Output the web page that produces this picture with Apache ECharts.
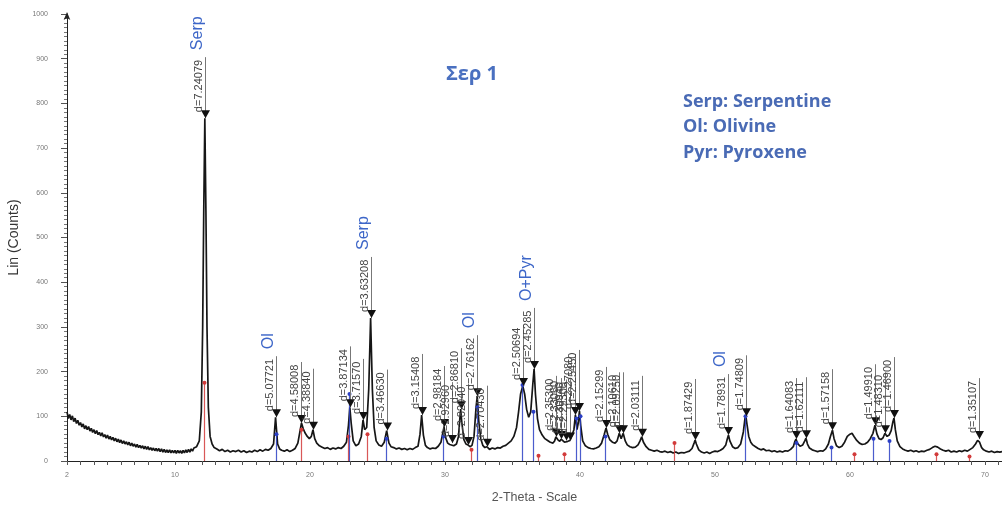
<!DOCTYPE html>
<html>
<head>
<meta charset="utf-8">
<script src="https://cdn.jsdelivr.net/npm/echarts@6/dist/echarts.min.js"></script>
<style>
  html, body { margin: 0; padding: 0; background: #fff; }
  #chart { width: 1002px; height: 510px; }
</style>
</head>
<body>
<div id="chart"></div>
<script>
// Measured diffractogram: [2-theta (deg), intensity (counts)]
const scan = [
  [2.0,110],[2.1,95],[2.2,104],[2.3,92],[2.4,101],[2.5,88],[2.6,96],[2.7,84],[2.8,91],[2.9,80],
  [3.0,86],[3.1,76],[3.2,83],[3.3,72],[3.4,79],[3.5,70],[3.6,77],[3.7,67],[3.8,73],[3.9,64],
  [4.0,70],[4.1,61],[4.2,68],[4.3,59],[4.4,64],[4.5,56],[4.6,63],[4.7,54],[4.8,59],[4.9,51],
  [5.0,58],[5.1,49],[5.2,55],[5.3,47],[5.4,53],[5.5,45],[5.6,51],[5.7,43],[5.8,49],[5.9,41],
  [6.0,47],[6.1,39],[6.2,45],[6.3,38],[6.4,43],[6.5,36],[6.6,42],[6.7,34],[6.8,40],[6.9,33],
  [7.0,38],[7.1,31],[7.2,37],[7.3,30],[7.4,35],[7.5,29],[7.6,34],[7.7,27],[7.8,33],[7.9,26],
  [8.0,32],[8.1,25],[8.2,30],[8.3,24],[8.4,29],[8.5,23],[8.6,28],[8.7,22],[8.8,28],[8.9,21],
  [9.0,27],[9.1,20],[9.2,26],[9.3,19],[9.4,25],[9.5,19],[9.6,25],[9.7,18],[9.8,24],[9.9,18],
  [10.0,24],[10.1,17],[10.2,24],[10.3,18],[10.4,23],[10.5,17],[10.6,24],[10.7,18],[10.8,25],[10.9,19],
  [11.0,26],[11.1,20],[11.2,27],[11.3,22],[11.4,29],[11.5,25],[11.6,32],[11.7,30],
  [11.8,45],[11.95,110],[12.05,300],[12.13,560],[12.21,767],[12.29,560],[12.37,300],[12.47,120],[12.6,55],[12.75,38],
  [12.9,30],[13.1,27],[13.3,23],[13.5,26],[13.7,21],[13.9,24],[14.1,20],[14.3,23],[14.5,21],[14.7,24],
  [14.9,20],[15.1,23],[15.3,19],[15.5,22],[15.7,20],[15.9,24],[16.1,21],[16.3,25],[16.5,22],[16.7,26],
  [16.9,24],[17.1,28],[17.3,38],[17.38,70],[17.45,98],[17.52,70],[17.6,38],[17.75,27],[17.9,24],[18.1,22],
  [18.3,25],[18.5,21],[18.7,24],[18.9,28],[19.1,40],[19.25,65],[19.37,85],[19.5,72],[19.65,62],[19.8,55],
  [19.95,50],[20.1,55],[20.22,70],[20.35,50],[20.5,40],[20.7,34],[20.9,31],[21.1,28],[21.3,30],[21.5,26],
  [21.7,29],[21.9,27],[22.1,30],[22.3,28],[22.5,33],[22.7,42],[22.85,80],[22.95,120],[23.05,85],[23.2,45],
  [23.4,34],[23.6,38],[23.8,55],[23.93,92],[24.05,70],[24.2,75],[24.35,160],[24.49,320],[24.62,160],[24.75,75],
  [24.9,45],[25.1,36],[25.3,33],[25.5,42],[25.68,68],[25.85,40],[26.0,32],[26.2,30],[26.4,27],[26.6,29],
  [26.8,26],[27.0,28],[27.2,25],[27.4,28],[27.6,26],[27.8,30],[28.0,33],[28.15,60],[28.27,103],[28.4,58],
  [28.55,35],[28.7,30],[28.9,27],[29.1,29],[29.3,28],[29.5,33],[29.7,42],[29.85,65],[29.93,76],[30.05,52],
  [30.2,40],[30.35,37],[30.49,40],[30.65,34],[30.85,38],[31.0,55],[31.1,95],[31.16,116],[31.25,85],[31.4,48],
  [31.55,38],[31.7,36],[31.85,32],[32.0,35],[32.15,55],[32.3,120],[32.39,145],[32.5,90],[32.65,50],[32.8,35],
  [32.95,30],[33.1,32],[33.3,26],[33.5,29],[33.7,27],[33.9,30],[34.1,29],[34.3,33],[34.5,35],[34.7,40],
  [34.9,45],[35.1,55],[35.3,75],[35.45,110],[35.6,150],[35.76,168],[35.9,150],[36.05,115],[36.2,98],[36.35,110],
  [36.5,170],[36.6,206],[36.7,150],[36.85,95],[37.0,70],[37.2,58],[37.4,50],[37.6,46],[37.8,42],[38.0,40],
  [38.12,45],[38.22,54],[38.35,48],[38.5,44],[38.6,49],[38.7,46],[38.85,42],[38.97,46],[39.1,44],[39.26,46],
  [39.4,50],[39.55,70],[39.66,103],[39.78,70],[39.87,85],[39.96,112],[40.05,80],[40.2,45],[40.4,34],[40.6,30],
  [40.8,28],[41.0,27],[41.2,29],[41.4,32],[41.6,40],[41.8,60],[41.93,74],[42.05,60],[42.2,48],[42.4,42],
  [42.6,40],[42.75,45],[42.91,62],[43.05,50],[43.2,62],[43.35,45],[43.5,36],[43.7,32],[43.9,30],[44.1,31],
  [44.3,36],[44.45,45],[44.57,54],[44.7,42],[44.9,32],[45.1,26],[45.3,24],[45.5,22],[45.7,24],[45.9,21],
  [46.1,20],[46.3,22],[46.5,19],[46.7,21],[46.9,18],[47.1,20],[47.3,17],[47.5,19],[47.7,18],[47.9,20],
  [48.1,22],[48.3,28],[48.45,40],[48.53,47],[48.62,38],[48.8,25],[49.0,20],[49.2,18],[49.4,20],[49.6,17],
  [49.8,20],[50.0,22],[50.2,21],[50.4,24],[50.6,28],[50.8,36],[50.9,48],[51.0,58],[51.1,45],[51.3,32],
  [51.5,28],[51.7,30],[51.9,38],[52.1,65],[52.22,95],[52.29,100],[52.38,80],[52.5,55],[52.65,42],[52.8,36],
  [53.0,32],[53.2,28],[53.4,25],[53.6,27],[53.8,23],[54.0,24],[54.2,21],[54.4,23],[54.6,20],[54.8,22],
  [55.0,20],[55.2,23],[55.4,22],[55.6,26],[55.8,32],[55.92,44],[56.0,49],[56.1,40],[56.3,33],[56.5,36],
  [56.65,45],[56.74,51],[56.85,38],[57.0,29],[57.2,25],[57.4,23],[57.6,21],[57.8,23],[58.0,22],[58.2,27],
  [58.4,38],[58.55,55],[58.7,69],[58.82,50],[59.0,34],[59.2,30],[59.4,33],[59.6,42],[59.8,55],[60.0,60],
  [60.15,62],[60.3,55],[60.5,46],[60.7,40],[60.9,37],[61.1,38],[61.3,42],[61.5,50],[61.7,62],[61.85,80],
  [62.0,60],[62.15,50],[62.3,48],[62.45,52],[62.59,62],[62.75,55],[62.9,58],[63.05,68],[63.18,88],[63.26,96],
  [63.36,70],[63.5,45],[63.7,32],[63.9,27],[64.1,24],[64.3,22],[64.5,24],[64.7,21],[64.9,23],[65.1,20],
  [65.3,22],[65.5,21],[65.7,24],[65.9,26],[66.1,30],[66.3,33],[66.5,31],[66.7,27],[66.9,24],[67.1,22],
  [67.3,24],[67.5,20],[67.7,22],[67.9,20],[68.1,23],[68.3,21],[68.5,24],[68.7,22],[68.9,26],[69.1,30],
  [69.3,38],[69.45,46],[69.52,49],[69.6,42],[69.75,30],[69.9,25],[70.1,22],[70.3,20],[70.5,22],[70.7,19],
  [70.9,21],[71.1,20],[71.26,21]
];

// Indexed peaks: position, intensity at the peak top, d-spacing label
const peakTheta = [12.21, 17.45, 19.37, 20.22, 22.95, 23.93, 24.49, 25.68, 28.27, 29.93,
  30.49, 31.16, 31.70, 32.39, 33.10, 35.76, 36.60, 38.22, 38.60, 38.97,
  39.26, 39.66, 39.96, 41.93, 42.91, 43.20, 44.57, 48.53, 51.00, 52.29,
  56.00, 56.74, 58.70, 61.85, 62.59, 63.26, 69.52];
const peakCounts = [767, 98, 85, 70, 120, 92, 320, 68, 103, 76,
  40, 116, 36, 145, 32, 168, 206, 54, 49, 46,
  46, 103, 112, 74, 62, 62, 54, 47, 58, 100,
  49, 51, 69, 80, 62, 96, 49];
const peakLabels = ['d=7.24079', 'd=5.07721', 'd=4.58008', 'd=4.38840', 'd=3.87134', 'd=3.71570', 'd=3.63208', 'd=3.46630', 'd=3.15408', 'd=2.98184',
  'd=2.92960', 'd=2.86810', 'd=2.82040', 'd=2.76162', 'd=2.70430', 'd=2.50694', 'd=2.45285', 'd=2.35300', 'd=2.33060', 'd=2.30940',
  'd=2.29300', 'd=2.27080', 'd=2.25450', 'd=2.15299', 'd=2.10610', 'd=2.09250', 'd=2.03111', 'd=1.87429', 'd=1.78931', 'd=1.74809',
  'd=1.64083', 'd=1.62111', 'd=1.57158', 'd=1.49910', 'd=1.48310', 'd=1.46900', 'd=1.35107'];

// Phase identification written above selected peaks
const phaseNames = ['Serp', 'Ol', 'Serp', 'Ol', 'O+Pyr', 'Ol'];
const phasePeaks = [0, 1, 6, 13, 16, 28];

// Reference pattern sticks
const blueTheta = [17.45, 22.9, 25.6, 29.85, 32.35, 35.7, 36.55, 39.7, 40.0, 41.85, 52.25, 56.0, 58.6, 61.7, 62.9];
const blueCounts = [60, 150, 50, 55, 120, 170, 110, 95, 100, 55, 100, 40, 30, 50, 45];
const redTheta = [12.15, 19.3, 22.85, 24.2, 31.9, 36.9, 38.8, 47.0, 60.3, 66.4, 68.8];
const redCounts = [175, 70, 55, 60, 25, 12, 15, 40, 15, 15, 10];

const STICK = 61;
const BLUE_TEXT = '#3d66c8';

const chart = echarts.init(document.getElementById('chart'), null, { renderer: 'canvas' });

function stickSeries(xs, ys, color) {
  return {
    type: 'custom',
    z: 3,
    silent: true,
    data: xs.map((x, i) => [x, ys[i]]),
    renderItem(params, api) {
      const top = api.coord([api.value(0), api.value(1)]);
      const base = api.coord([api.value(0), 0]);
      const px = Math.round(top[0]) + 0.5;
      return {
        type: 'group',
        children: [
          { type: 'line', shape: { x1: px, y1: base[1], x2: px, y2: top[1] },
            style: { stroke: color, lineWidth: 1.2, opacity: 0.85 } },
          { type: 'circle', shape: { cx: px, cy: top[1], r: 2 }, style: { fill: color } }
        ]
      };
    }
  };
}

const option = {
  animation: false,
  backgroundColor: '#fff',
  grid: { left: 67, right: 0, top: 14, bottom: 49, containLabel: false, outerBoundsMode: 'none' },
  xAxis: {
    type: 'value', min: 2, max: 71.26, interval: 1,
    name: '2-Theta - Scale', nameLocation: 'middle', nameGap: 30,
    nameTextStyle: { fontFamily: 'Liberation Sans', fontSize: 12.5, color: '#555' },
    axisLine: { show: true, lineStyle: { color: '#222', width: 1 } },
    axisTick: { show: true, length: 4, lineStyle: { color: '#555' } },
    axisLabel: {
      fontFamily: 'Liberation Sans', fontSize: 7, color: '#777', margin: 11,
      showMaxLabel: false,
      formatter: v => (v === 2 || (Math.abs(v % 10) < 1e-9)) ? String(v) : ''
    },
    splitLine: { show: false }
  },
  yAxis: {
    type: 'value', min: 0, max: 1000, interval: 100,
    name: 'Lin (Counts)', nameLocation: 'middle', nameGap: 41, nameRotate: 90,
    nameTextStyle: { fontFamily: 'Liberation Sans', fontSize: 14, color: '#333' },
    axisLine: { show: true, symbol: ['none', 'arrow'], symbolSize: [5, 8], symbolOffset: [0, 2],
      lineStyle: { color: '#222', width: 1 } },
    axisTick: { show: true, length: 6, lineStyle: { color: '#555' } },
    minorTick: { show: true, splitNumber: 10, length: 3, lineStyle: { color: '#777' } },
    axisLabel: { fontFamily: 'Liberation Sans', fontSize: 7, color: '#777', margin: 19,
      formatter: v => String(v) },
    splitLine: { show: false }
  },
  series: [
    {
      type: 'line', data: scan, symbol: 'none', silent: true, z: 2,
      lineStyle: { color: '#161616', width: 1.7 }
    },
    stickSeries(redTheta, redCounts, '#d23a3a'),
    stickSeries(blueTheta, blueCounts, '#2b3fc4'),
    {
      // d-spacing markers: triangle at peak top, tie line and rotated label
      type: 'custom', z: 5, silent: true,
      data: peakTheta.map((x, i) => [x, peakCounts[i]]),
      renderItem(params, api) {
        const p = api.coord([api.value(0), api.value(1)]);
        const px = Math.round(p[0]) + 0.5;
        const py = p[1];
        return {
          type: 'group',
          children: [
            { type: 'line', shape: { x1: px, y1: py, x2: px, y2: py - STICK },
              style: { stroke: '#777', lineWidth: 1 } },
            { type: 'polygon', shape: { points: [[px - 4.5, py - 8], [px + 4.5, py - 8], [px, py]] },
              style: { fill: '#111' } },
            { type: 'text', x: px - 1, y: py - 6, rotation: Math.PI / 2,
              style: { text: peakLabels[params.dataIndex], font: '11px "Liberation Sans"',
                fill: '#444', align: 'left', verticalAlign: 'bottom' } }
          ]
        };
      }
    },
    {
      // phase names above the identified peaks
      type: 'custom', z: 6, silent: true,
      data: phasePeaks.map(k => [peakTheta[k], peakCounts[k]]),
      renderItem(params, api) {
        const p = api.coord([api.value(0), api.value(1)]);
        const px = Math.round(p[0]) + 0.5;
        return {
          type: 'text', x: px, y: p[1] - STICK - 7, rotation: Math.PI / 2,
          style: { text: phaseNames[params.dataIndex], font: '16px "Liberation Sans"',
            fill: BLUE_TEXT, align: 'left', verticalAlign: 'bottom' }
        };
      }
    }
  ],
  graphic: [
    { type: 'text', left: 446, top: 64,
      style: { text: 'Σερ 1', font: 'bold 20px "Open Sans"', fill: '#4a70c0' } },
    { type: 'text', left: 683, top: 89,
      style: { text: 'Serp: Serpentine\nOl: Olivine\nPyr: Pyroxene', font: 'bold 18px "Open Sans"',
        lineHeight: 25.5, fill: '#4a6bb5' } }
  ]
};

chart.setOption(option);
</script>
</body>
</html>
